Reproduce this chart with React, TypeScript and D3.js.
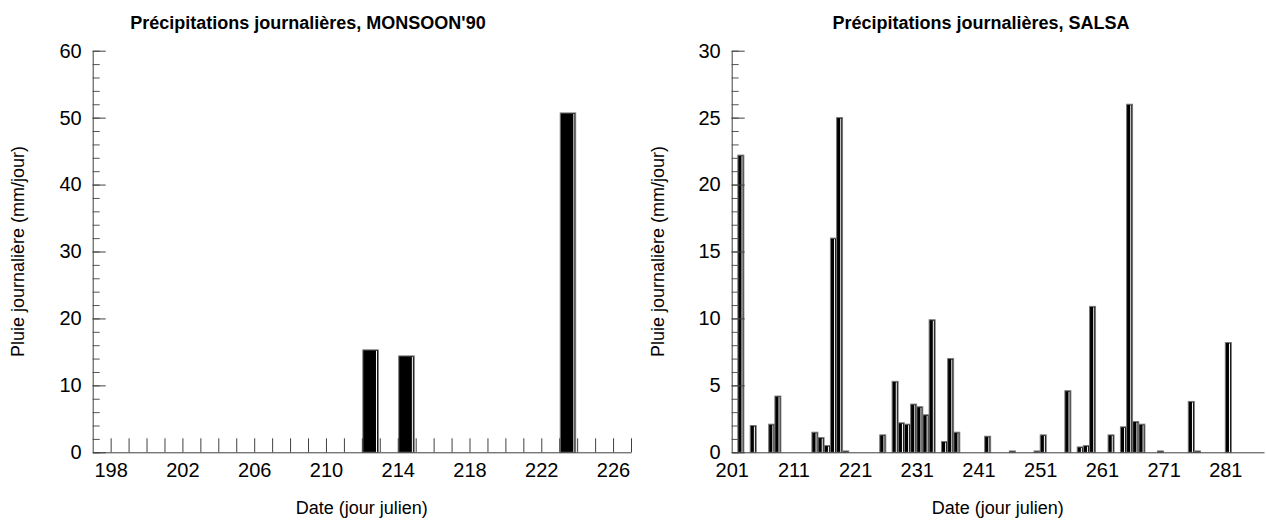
import React, { useRef, useEffect } from 'react';
import * as d3 from 'd3';

// MONSOON'90 daily rainfall (mm/day)
const monsoonDays = [212, 214, 223];
const monsoonRain = [15.3, 14.4, 50.7];
const monsoonTicks = [198, 202, 206, 210, 214, 218, 222, 226];

// SALSA daily rainfall (mm/day)
const salsaDays = [202, 204, 207, 208, 214, 215, 216, 217, 218, 219, 225, 227, 228, 229, 230, 231, 232, 233, 235, 236, 237, 242, 246, 250, 251, 255, 257, 258, 259, 262, 264, 265, 266, 267, 270, 275, 276, 281];
const salsaRain = [22.2, 2.0, 2.1, 4.2, 1.5, 1.1, 0.5, 16.0, 25.0, 0.1, 1.3, 5.3, 2.2, 2.1, 3.6, 3.4, 2.8, 9.9, 0.8, 7.0, 1.5, 1.2, 0.1, 0.1, 1.3, 4.6, 0.4, 0.5, 10.9, 1.3, 1.9, 26.0, 2.3, 2.1, 0.1, 3.8, 0.1, 8.2];
const salsaTicks = [201, 211, 221, 231, 241, 251, 261, 271, 281];

const FONT = 'Arial, "Liberation Sans", Helvetica, sans-serif';

const drawPanel = (svg, opts) => {
  const { days, rain, left, right, top, bottom, xDomain, yMax, yMajor, yMinor, xLabels, dayTicks, title, titleX, yTitleX, barInset } = opts;

  const x = d3.scaleLinear().domain(xDomain).range([left, right]);
  const y = d3.scaleLinear().domain([0, yMax]).range([bottom, top]);
  const g = svg.append('g');

  // bars
  const bars = g.append('g');
  days.forEach((d, i) => {
    const x0 = x(d) + barInset[0];
    const x1 = x(d + 1) - barInset[1];
    const yt = y(rain[i]);
    bars.append('rect')
      .attr('x', x0)
      .attr('y', yt)
      .attr('width', x1 - x0)
      .attr('height', bottom - yt)
      .attr('fill', '#000')
      .attr('stroke', '#777')
      .attr('stroke-width', 1);
    if (bottom - yt > 3) {
      bars.append('line')
        .attr('x1', x1 - 1.8).attr('x2', x1 - 1.8)
        .attr('y1', yt + 1).attr('y2', bottom)
        .attr('stroke', '#fff')
        .attr('stroke-width', 1);
    }
  });

  // y axis, minor ticks
  g.append('g')
    .attr('transform', `translate(${left},0)`)
    .call(d3.axisLeft(y).tickValues(d3.range(0, yMax + 0.001, yMinor)).tickSize(-7).tickSizeOuter(0).tickFormat(() => ''))
    .call(a => a.select('.domain').remove())
    .call(a => a.selectAll('line').attr('stroke', '#555'));

  // y axis, major ticks + labels
  g.append('g')
    .attr('transform', `translate(${left},0)`)
    .call(d3.axisLeft(y).tickValues(d3.range(0, yMax + 0.001, yMajor)).tickSize(-13).tickSizeOuter(0).tickPadding(11))
    .call(a => a.select('.domain').attr('stroke', '#404040'))
    .call(a => a.selectAll('line').attr('stroke', '#404040'))
    .call(a => a.selectAll('text').attr('font-family', FONT).attr('font-size', 20).attr('fill', '#000'));

  // x axis
  const xa = dayTicks
    ? d3.axisBottom(x).tickValues(d3.range(xDomain[0] + 1, xDomain[1] + 0.001, 1)).tickSize(-14).tickSizeOuter(0)
        .tickFormat(v => (xLabels.includes(v) ? String(v) : ''))
    : d3.axisBottom(x).tickValues(xLabels).tickSize(0).tickSizeOuter(0).tickFormat(v => String(v));
  g.append('g')
    .attr('transform', `translate(0,${bottom})`)
    .call(xa.tickPadding(11))
    .call(a => a.select('.domain').attr('stroke', '#404040'))
    .call(a => a.selectAll('line').attr('stroke', '#404040'))
    .call(a => a.selectAll('text').attr('font-family', FONT).attr('font-size', 20).attr('fill', '#000'));

  // titles
  g.append('text')
    .attr('x', titleX).attr('y', 29)
    .attr('text-anchor', 'middle')
    .attr('font-family', FONT).attr('font-size', 18).attr('font-weight', 'bold')
    .text(title);

  g.append('text')
    .attr('x', (left + right) / 2).attr('y', 514)
    .attr('text-anchor', 'middle')
    .attr('font-family', FONT).attr('font-size', 18)
    .text('Date (jour julien)');

  g.append('text')
    .attr('transform', `translate(${yTitleX},${(top + bottom) / 2}) rotate(-90)`)
    .attr('text-anchor', 'middle')
    .attr('font-family', FONT).attr('font-size', 18)
    .text('Pluie journalière (mm/jour)');
};

const App = () => {
  const svgRef = useRef(null);

  useEffect(() => {
    const svg = d3.select(svgRef.current);
    svg.selectAll('*').remove();

    drawPanel(svg, {
      days: monsoonDays, rain: monsoonRain,
      left: 92.7, right: 631, top: 50.7, bottom: 452.3,
      xDomain: [197, 227], yMax: 60, yMajor: 10, yMinor: 2,
      xLabels: monsoonTicks, dayTicks: true,
      title: "Précipitations journalières, MONSOON'90", titleX: 308, yTitleX: 24,
      barInset: [1, 1.5],
    });

    drawPanel(svg, {
      days: salsaDays, rain: salsaRain,
      left: 731.7, right: 1264, top: 50.7, bottom: 452.3,
      xDomain: [201, 287.27], yMax: 30, yMajor: 5, yMinor: 1,
      xLabels: salsaTicks, dayTicks: false,
      title: 'Précipitations journalières, SALSA', titleX: 981, yTitleX: 664,
      barInset: [0, 0.2],
    });
  }, []);

  return (
    <svg
      ref={svgRef}
      width={1266}
      height={521}
      style={{ position: 'absolute', left: 0, top: 0, background: '#fff' }}
    />
  );
};

export default App;
